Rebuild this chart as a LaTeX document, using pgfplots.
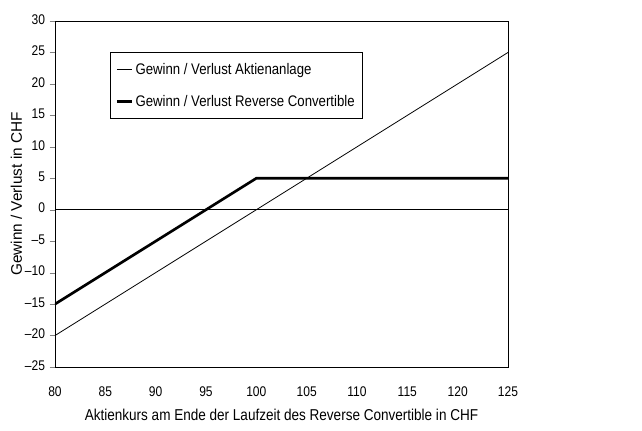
\documentclass[border=0pt]{standalone}
\usepackage{fontspec}
\setmainfont{Liberation Sans}[FakeStretch=0.86]
\newfontfamily\widefont{Liberation Sans}
\usepackage{pgfplots}
\pgfplotsset{compat=1.18}
\begin{document}
\begin{tikzpicture}
\begin{axis}[
  scale only axis,
  width=339.75pt, height=259.5pt,
  at={(0,0)}, anchor=south west,
  xmin=80, xmax=125, ymin=-25, ymax=30,
  xtick={80,85,...,125}, ytick={-25,-20,...,30},
  yticklabels={–25,–20,–15,–10,–5,0,5,10,15,20,25,30},
  /pgf/number format/assume math mode=true,
  typeset ticklabels with strut,
  ticklabel style={font=\fontsize{10.5}{12}\selectfont},
  xtick style={draw=none},
  ytick pos=left, tick align=outside,
  major tick length=4pt,
  xticklabel style={yshift=-6pt},
  axis line style={line width=0.6pt},
  xlabel={Aktienkurs am Ende der Laufzeit des Reverse Convertible in CHF},
  ylabel={Gewinn / Verlust in CHF},
  xlabel style={font=\fontsize{11.8}{14}\selectfont, at={(axis description cs:0.5,-0.139)}, anchor=center},
  ylabel style={font=\widefont\fontsize{11.5}{14}\selectfont, at={(axis description cs:-0.085,0.5)}, anchor=center},
  legend style={at={(0.121,0.910)}, anchor=north west, draw=black, line width=0.6pt,
    font=\fontsize{11.5}{14}\selectfont, inner xsep=4pt, inner ysep=6pt, row sep=10pt,
    cells={anchor=west}},
  legend image code/.code={\draw[#1] (0pt,0pt) -- (11pt,0pt);},
]
\addplot[black, line width=0.6pt, forget plot] coordinates {(80,0) (125,0)};
\addplot[black, line width=0.6pt] coordinates {(80,-20) (125,25)};
\addlegendentry{Gewinn / Verlust Aktienanlage}
\addplot[black, line width=2pt] coordinates {(80,-15) (100,5) (125,5)};
\addlegendentry{Gewinn / Verlust Reverse Convertible}
\end{axis}
\pgfresetboundingbox
\path[use as bounding box] (-41.25pt,-47.25pt) rectangle (440.25pt,275.25pt);
\end{tikzpicture}
\end{document}
